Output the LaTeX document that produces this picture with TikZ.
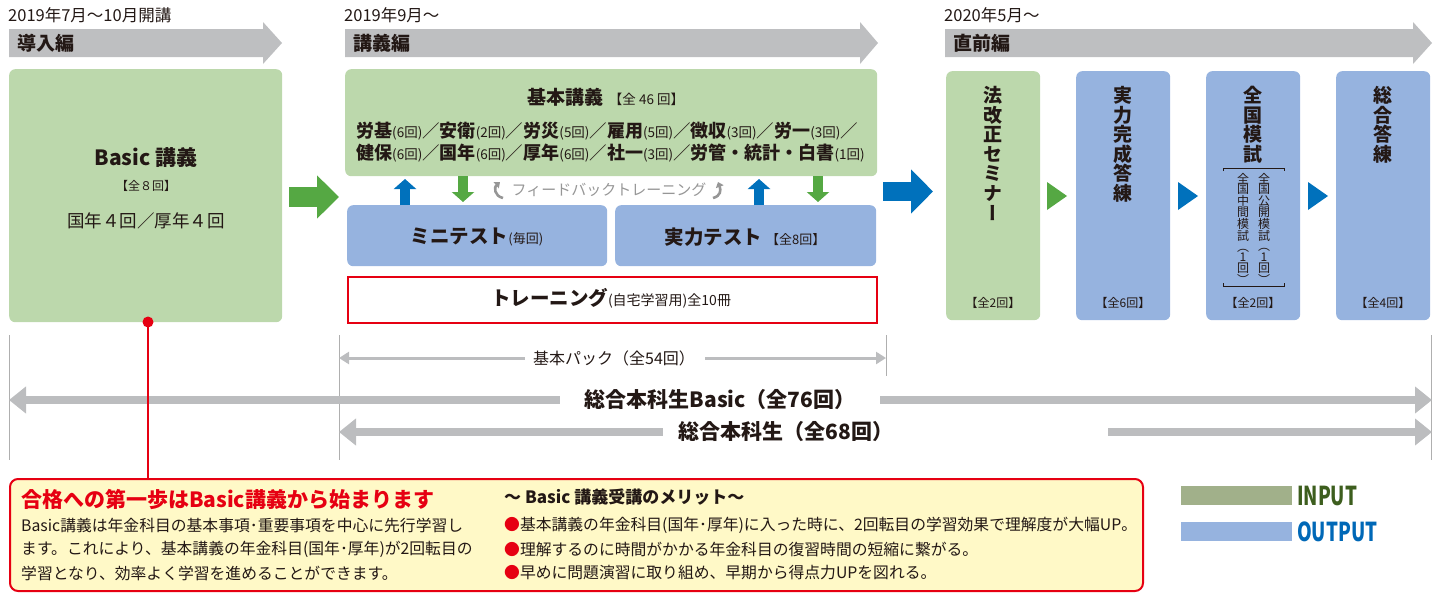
\documentclass[tikz,border=0pt]{standalone}
\usepackage{fontspec}
\setmainfont{Noto Sans CJK JP}
\newfontfamily\vfont[RawFeature=+vert]{Noto Sans CJK JP}
\usetikzlibrary{arrows.meta,calc}
\definecolor{hdr}{RGB}{190,191,193}
\definecolor{gbox}{RGB}{188,216,172}
\definecolor{bbox}{RGB}{150,179,223}
\definecolor{garrow}{RGB}{85,168,67}
\definecolor{barrow}{RGB}{0,113,188}
\definecolor{jred}{RGB}{230,0,18}
\definecolor{yel}{RGB}{255,249,199}
\definecolor{ink}{RGB}{35,24,21}
\definecolor{garr}{RGB}{188,189,191}
\definecolor{vline}{RGB}{175,175,175}
\definecolor{fbgray}{RGB}{150,150,150}
\definecolor{ingreen}{RGB}{161,176,138}
\definecolor{intext}{RGB}{61,94,30}
\definecolor{outtext}{RGB}{0,104,183}
\newcommand\fs[1]{\fontsize{#1}{#1}\selectfont}
\newcommand\subj[2]{\textbf{\fs{18}#1}{\fs{13.5}(#2回)}}
\newcommand\sla{{\fs{17.5}／}}
\tikzset{
  every node/.style={text=ink, inner sep=0pt},
  greenbox/.style={fill=gbox, rounded corners=6pt, draw=none},
  bluebox/.style={fill=bbox, rounded corners=6pt, draw=none},
  hdrtxt/.style={font=\bfseries\fs{19}, anchor=west},
  datetxt/.style={font=\fs{16.5}, anchor=west},
  vtxt/.style={align=center, anchor=north, font=\vfont\bfseries\fontsize{19}{19.6}\selectfont},
  vsmall/.style={align=center, anchor=north, font=\vfont\fontsize{12}{10.6}\selectfont},
  cnt/.style={font=\fs{12}},
  updown/.style={line width=10pt, -{Triangle[length=10pt,width=22pt]}},
  bigarrow/.style={line width=8pt, draw=garr, {Triangle[length=17pt,width=26pt]}-{Triangle[length=17pt,width=26pt]}},
  thinarrow/.style={line width=3pt, draw=garr, {Triangle[length=10pt,width=12pt]}-{Triangle[length=10pt,width=12pt]}},
  gapbox/.style={fill=white, draw=none},
  bodytxt/.style={anchor=west, font=\fs{15.8}},
  fbarrow/.style={fbgray, line width=2.6pt, -{Triangle[length=5pt,width=8pt]}},
}
\begin{document}
\begin{tikzpicture}[x=1pt,y=-1pt]
\useasboundingbox (0,0) rectangle (1440,600);

% ---------- header bars ----------
\fill[hdr] (9,29) -- (263,29) -- (263,22) -- (282,43) -- (263,64) -- (263,57) -- (9,57) -- cycle;
\fill[hdr] (345,29) -- (860,29) -- (860,22) -- (878,43) -- (860,64) -- (860,57) -- (345,57) -- cycle;
\fill[hdr] (945,29) -- (1413,29) -- (1413,22) -- (1432,43) -- (1413,64) -- (1413,57) -- (945,57) -- cycle;
\node[datetxt] (d1) at (8,15) {2019年7月〜10月開講};
\node[datetxt] (d2) at (344,15) {2019年9月〜};
\node[datetxt] (d3) at (944,15) {2020年5月〜};
\node[hdrtxt] (h1) at (17,43) {導入編};
\node[hdrtxt] (h2) at (353,43) {講義編};
\node[hdrtxt] (h3) at (953,43) {直前編};

% ---------- Basic box ----------
\node[greenbox, minimum width=273pt, minimum height=253pt, anchor=north west] (basic) at (9,69) {};
\node[font=\bfseries\fs{21}] (basict) at (146,158) {Basic 講義};
\node[font=\fs{12}] (basicc) at (146,186) {【全８回】};
\node[font=\fs{17.5}] (basicd) at (146,221) {国年４回／厚年４回};

% green arrow
\coordinate (ga1) at (289,197);
\coordinate (ga2) at (339,197);
\draw[line width=20pt, draw=garrow, -{Triangle[length=22pt,width=42pt]}] (ga1) -- (ga2);

% ---------- 基本講義 ----------
\node[greenbox, minimum width=532pt, minimum height=107pt, anchor=north west] (kk) at (345,69) {};
\node (kkt) at (606,97) {\bfseries\fs{19}基本講義\hspace{5pt}{\mdseries\fs{13.5}【全 46 回】}};
\node[anchor=west] (kk1) at (356,131) {\subj{労基}{6}\sla\subj{安衛}{2}\sla\subj{労災}{5}\sla\subj{雇用}{5}\sla\subj{徴収}{3}\sla\subj{労一}{3}\sla};
\node[anchor=west] (kk2) at (356,153) {\subj{健保}{6}\sla\subj{国年}{6}\sla\subj{厚年}{6}\sla\subj{社一}{3}\sla\subj{労管・統計・白書}{1}};

% tests
\node[bluebox, minimum width=260pt, minimum height=61pt, anchor=north west] (mt) at (347,205) {};
\node[bluebox, minimum width=261pt, minimum height=61pt, anchor=north west] (jt) at (615,205) {};
\node (mtt) at (477,237) {\bfseries\fs{19.5}ミニテスト{\mdseries\fs{13}(毎回)}};
\node (jtt) at (745,237) {\bfseries\fs{19.5}実力テスト\hspace{4pt}{\mdseries\fs{13}【全8回】}};

% up / down arrows
\coordinate (u1a) at (405,205); \coordinate (u1b) at (405,179);
\coordinate (d1a) at (463,176); \coordinate (d1b) at (463,202);
\coordinate (u2a) at (759,205); \coordinate (u2b) at (759,179);
\coordinate (d2a) at (818,176); \coordinate (d2b) at (818,202);
\draw[updown, draw=barrow] (u1a) -- (u1b);
\draw[updown, draw=garrow] (d1a) -- (d1b);
\draw[updown, draw=barrow] (u2a) -- (u2b);
\draw[updown, draw=garrow] (d2a) -- (d2b);

% feedback
\node[text=fbgray, font=\fs{15}] (fb) at (609,190) {フィードバックトレーニング};
\coordinate (fl1) at (503,198); \coordinate (fl2) at (500,182);
\coordinate (fr1) at (713,198); \coordinate (fr2) at (718,182);
\draw[fbarrow] (fl1) .. controls (494,196) and (494,187) .. (fl2);
\draw[fbarrow] (fr1) .. controls (721,196) and (721,190) .. (fr2);

% training
\node[draw=jred, line width=1.6pt, fill=white, minimum width=529pt, minimum height=46pt, anchor=north west] (tr) at (347,276) {};
\node (trt) at (611,298) {\bfseries\fs{19.5}トレーニング{\mdseries\fs{14}(自宅学習用)全10冊}};

% big blue arrow
\coordinate (ba1) at (883,191.5);
\coordinate (ba2) at (933,191.5);
\draw[line width=19pt, draw=barrow, -{Triangle[length=22pt,width=43pt]}] (ba1) -- (ba2);

% ---------- right boxes ----------
\node[greenbox, minimum width=94pt, minimum height=249pt, anchor=north west] (r1) at (946,71) {};
\node[bluebox, minimum width=94pt, minimum height=249pt, anchor=north west] (r2) at (1076,71) {};
\node[bluebox, minimum width=94pt, minimum height=249pt, anchor=north west] (r3) at (1206,71) {};
\node[bluebox, minimum width=94pt, minimum height=249pt, anchor=north west] (r4) at (1336,71) {};
\node[vtxt] (r1t) at (993,86) {法\\改\\正\\セ\\ミ\\ナ\\ー};
\node[vtxt] (r2t) at (1123,86) {実\\力\\完\\成\\答\\練};
\node[vtxt] (r3t) at (1253,86) {全\\国\\模\\試};
\node[vtxt] (r4t) at (1383,86) {総\\合\\答\\練};
\draw[ink, line width=0.7pt] (1223,171) -- (1223,168) -- (1284,168) -- (1284,171);
\draw[ink, line width=0.7pt] (1223,283) -- (1223,286) -- (1284,286) -- (1284,283);
\node[vsmall] (r3a) at (1264,173) {全\\国\\公\\開\\模\\試\\（\\1\\回\\）};
\node[vsmall] (r3b) at (1243,173) {全\\国\\中\\間\\模\\試\\（\\1\\回\\）};
\node[cnt] (r1c) at (993,303) {【全2回】};
\node[cnt] (r2c) at (1123,303) {【全6回】};
\node[cnt] (r3c) at (1253,303) {【全2回】};
\node[cnt] (r4c) at (1383,303) {【全4回】};
\fill[garrow] (1047,182) -- (1067,196) -- (1047,210) -- cycle;
\fill[barrow] (1178,182) -- (1198,196) -- (1178,210) -- cycle;
\fill[barrow] (1308,182) -- (1328,196) -- (1308,210) -- cycle;

% ---------- bottom span arrows ----------
\draw[vline, line width=0.8pt] (9,335) -- (9,460);
\draw[vline, line width=0.8pt] (339,335) -- (339,460);
\draw[vline, line width=0.8pt] (886,335) -- (886,376);
\draw[vline, line width=0.8pt] (1431,335) -- (1431,460);
\coordinate (p1) at (339,358); \coordinate (p2) at (886,358);
\coordinate (b1) at (9,400);   \coordinate (b2) at (1432,400);
\coordinate (s1) at (339,432); \coordinate (s2) at (1432,432);
\draw[thinarrow] (p1) -- (p2);
\draw[bigarrow] (b1) -- (b2);
\draw[bigarrow] (s1) -- (s2);
\fill[gapbox] (525,352) rectangle (705,364);
\fill[gapbox] (560,392) rectangle (880,408);
\fill[gapbox] (663,424) rectangle (1108,440);
\node[font=\fs{16}] (pl) at (614,358) {基本パック（全54回）};
\node[font=\bfseries\fs{21}] (bl) at (720,400) {総合本科生Basic（全76回）};
\node[font=\bfseries\fs{21}] (sl) at (786,432) {総合本科生（全68回）};

% ---------- callout ----------
\node[draw=jred, line width=2pt, fill=yel, rounded corners=8pt, minimum width=1133pt, minimum height=112pt, anchor=north west] (call) at (9,478) {};
\node[circle, fill=jred, minimum size=11pt] (dot) at (148,322) {};
\coordinate (ctop) at (148,478);
\draw[jred, line width=1.5pt] (dot.center) -- (ctop);
\node[anchor=west, text=jred, font=\bfseries\fs{21}] (ct) at (21,500) {合格への第一歩はBasic講義から始まります};
\node[bodytxt] (c1) at (21,525) {Basic講義は年金科目の基本事項･重要事項を中心に先行学習し};
\node[bodytxt] (c2) at (21,549) {ます。これにより、基本講義の年金科目(国年･厚年)が2回転目の};
\node[bodytxt] (c3) at (21,573) {学習となり、効率よく学習を進めることができます。};
\node[anchor=west, font=\bfseries\fs{17}] (mt0) at (504,497) {〜 Basic 講義受講のメリット〜};
\node[bodytxt] (m1) at (504,525) {\textcolor{jred}{●}基本講義の年金科目(国年･厚年)に入った時に、2回転目の学習効果で理解度が大幅UP。};
\node[bodytxt] (m2) at (504,549) {\textcolor{jred}{●}理解するのに時間がかかる年金科目の復習時間の短縮に繋がる。};
\node[bodytxt] (m3) at (504,573) {\textcolor{jred}{●}早めに問題演習に取り組め、早期から得点力UPを図れる。};

% ---------- legend ----------
\fill[ingreen] (1181,486) rectangle (1292,505);
\fill[bbox] (1181,522) rectangle (1292,541);
\node[anchor=west, text=intext, font=\bfseries\fs{26}] (lin) at (1297,496) {\scalebox{0.72}[1]{INPUT}};
\node[anchor=west, text=outtext, font=\bfseries\fs{26}] (lout) at (1297,532) {\scalebox{0.72}[1]{OUTPUT}};
\end{tikzpicture}
\end{document}
